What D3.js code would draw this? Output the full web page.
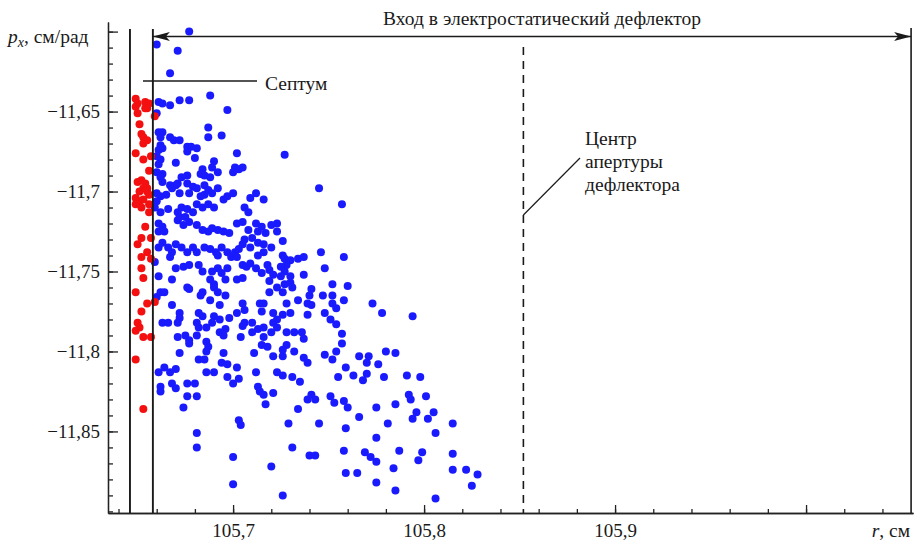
<!DOCTYPE html>
<html>
<head>
<meta charset="utf-8">
<script src="https://cdn.jsdelivr.net/npm/d3@7"></script>
<style>
body { margin: 0; background: #fff; }
svg, svg text, svg tspan { font-family: 'Liberation Serif', 'DejaVu Serif', 'Times New Roman', Times, serif !important; fill: #1a1a1a; }
</style>
</head>
<body>
<script>
var width = 915, height = 545;

// particles inside the septum (red) and beyond it (blue): [r, cm ; p_x, cm/rad]
var redPoints = [
  [105.649,-11.642],[105.654,-11.644],[105.656,-11.645],[105.650,-11.645],[105.649,-11.647],[105.654,-11.648],
  [105.655,-11.648],[105.650,-11.651],[105.659,-11.653],[105.651,-11.658],[105.652,-11.664],[105.653,-11.666],
  [105.655,-11.668],[105.653,-11.670],[105.649,-11.676],[105.653,-11.680],[105.657,-11.678],[105.656,-11.687],
  [105.650,-11.694],[105.652,-11.693],[105.654,-11.695],[105.655,-11.698],[105.653,-11.698],[105.651,-11.700],
  [105.655,-11.700],[105.656,-11.702],[105.649,-11.704],[105.651,-11.706],[105.653,-11.705],[105.649,-11.708],
  [105.656,-11.708],[105.652,-11.710],[105.656,-11.713],[105.654,-11.722],[105.652,-11.729],[105.650,-11.733],
  [105.657,-11.729],[105.655,-11.738],[105.652,-11.741],[105.657,-11.742],[105.652,-11.748],[105.653,-11.754],
  [105.649,-11.763],[105.655,-11.770],[105.659,-11.769],[105.652,-11.775],[105.650,-11.782],[105.651,-11.785],
  [105.649,-11.787],[105.653,-11.791],[105.657,-11.791],[105.649,-11.805],[105.653,-11.836]
];

var bluePoints = [
  [105.677,-11.600],[105.660,-11.608],[105.671,-11.612],[105.667,-11.626],[105.688,-11.640],
  [105.661,-11.644],[105.663,-11.645],[105.667,-11.646],[105.672,-11.643],[105.677,-11.643],[105.660,-11.651],
  [105.697,-11.649],[105.687,-11.660],
  [105.661,-11.663],[105.663,-11.663],[105.662,-11.666],[105.667,-11.666],[105.669,-11.668],[105.672,-11.668],
  [105.687,-11.666],[105.694,-11.665],[105.662,-11.671],[105.661,-11.674],[105.663,-11.673],[105.676,-11.672],
  [105.678,-11.672],[105.681,-11.673],[105.676,-11.675],[105.702,-11.676],[105.727,-11.677],[105.680,-11.679],
  [105.660,-11.678],
  [105.662,-11.680],[105.661,-11.683],[105.670,-11.682],[105.690,-11.681],[105.689,-11.685],[105.692,-11.688],
  [105.701,-11.685],[105.703,-11.686],[105.700,-11.688],[105.705,-11.685],[105.660,-11.688],[105.663,-11.689],
  [105.662,-11.691],[105.684,-11.686],[105.683,-11.689],[105.685,-11.690],[105.676,-11.690],[105.673,-11.691],
  [105.688,-11.691],
  [105.663,-11.694],[105.667,-11.696],[105.670,-11.696],[105.668,-11.698],[105.671,-11.695],[105.676,-11.695],
  [105.679,-11.697],[105.681,-11.698],[105.685,-11.696],[105.687,-11.699],[105.685,-11.702],[105.692,-11.698],
  [105.745,-11.698],[105.660,-11.701],[105.662,-11.703],[105.665,-11.702],[105.672,-11.701],[105.677,-11.701],
  [105.683,-11.703],[105.695,-11.705],[105.697,-11.703],[105.700,-11.701],[105.709,-11.704],[105.712,-11.701],
  [105.716,-11.705],[105.689,-11.701],
  [105.757,-11.708],[105.660,-11.706],[105.659,-11.710],[105.662,-11.713],[105.666,-11.711],[105.671,-11.713],
  [105.673,-11.710],[105.676,-11.711],[105.679,-11.713],[105.681,-11.708],[105.684,-11.710],[105.687,-11.708],
  [105.690,-11.710],[105.706,-11.710],[105.708,-11.713],[105.671,-11.718],[105.672,-11.716],[105.675,-11.716],
  [105.661,-11.720],[105.663,-11.722],[105.661,-11.725],[105.664,-11.725],[105.677,-11.719],[105.674,-11.721],
  [105.681,-11.721],[105.684,-11.724],[105.687,-11.725],[105.689,-11.723],[105.692,-11.724],[105.695,-11.725],
  [105.698,-11.726],[105.702,-11.720],[105.705,-11.719],[105.708,-11.724],[105.712,-11.720],[105.713,-11.725],
  [105.715,-11.722],[105.720,-11.721],[105.723,-11.720],[105.717,-11.726],[105.723,-11.725],[105.706,-11.730],
  [105.710,-11.729],
  [105.726,-11.731],[105.716,-11.733],[105.713,-11.732],[105.709,-11.735],[105.720,-11.735],[105.661,-11.735],
  [105.663,-11.732],[105.666,-11.735],[105.668,-11.738],[105.667,-11.741],[105.670,-11.733],[105.673,-11.735],
  [105.676,-11.738],[105.679,-11.735],[105.681,-11.738],[105.685,-11.735],[105.688,-11.736],[105.691,-11.738],
  [105.694,-11.735],[105.697,-11.738],[105.699,-11.741],[105.701,-11.738],[105.703,-11.736],[105.705,-11.733],
  [105.692,-11.740],[105.702,-11.741],[105.713,-11.740],[105.716,-11.738],[105.726,-11.740],[105.727,-11.742],
  [105.730,-11.743],[105.734,-11.742],[105.737,-11.741],[105.746,-11.738],[105.758,-11.741],
  [105.728,-11.746],[105.659,-11.744],[105.670,-11.748],[105.674,-11.747],[105.677,-11.746],[105.682,-11.746],
  [105.684,-11.750],[105.689,-11.750],[105.692,-11.748],[105.694,-11.751],[105.697,-11.748],[105.705,-11.746],
  [105.707,-11.747],[105.709,-11.745],[105.712,-11.748],[105.718,-11.746],[105.719,-11.749],[105.721,-11.752],
  [105.725,-11.747],[105.727,-11.750],[105.715,-11.751],[105.725,-11.753],[105.730,-11.753],[105.737,-11.752],
  [105.748,-11.748],[105.661,-11.753],[105.668,-11.755],[105.702,-11.755],[105.705,-11.754],
  [105.696,-11.755],[105.688,-11.755],[105.690,-11.758],[105.719,-11.756],[105.723,-11.760],[105.727,-11.758],
  [105.726,-11.763],[105.730,-11.757],[105.731,-11.760],[105.752,-11.758],[105.760,-11.759],[105.741,-11.761],
  [105.740,-11.765],[105.747,-11.765],[105.752,-11.765],[105.676,-11.760],[105.677,-11.761],[105.684,-11.763],
  [105.683,-11.765],[105.690,-11.760],[105.692,-11.763],[105.696,-11.765],[105.719,-11.763],[105.660,-11.766],
  [105.662,-11.763],[105.664,-11.763],
  [105.688,-11.768],[105.752,-11.770],[105.754,-11.773],[105.758,-11.768],[105.739,-11.770],[105.741,-11.771],
  [105.714,-11.770],[105.716,-11.770],[105.728,-11.770],[105.734,-11.768],[105.773,-11.770],[105.778,-11.776],
  [105.794,-11.778],[105.748,-11.776],[105.751,-11.780],[105.726,-11.777],[105.723,-11.780],[105.739,-11.777],
  [105.705,-11.770],[105.706,-11.774],[105.721,-11.776],[105.668,-11.771],[105.672,-11.776],[105.672,-11.779],
  [105.682,-11.776],[105.684,-11.778],[105.690,-11.778],[105.693,-11.780],[105.698,-11.779],[105.702,-11.776],
  [105.715,-11.775],[105.693,-11.771],[105.730,-11.776],
  [105.721,-11.782],[105.716,-11.785],[105.713,-11.786],[105.710,-11.788],[105.720,-11.788],[105.728,-11.788],
  [105.732,-11.788],[105.736,-11.788],[105.737,-11.792],[105.754,-11.783],[105.757,-11.789],[105.663,-11.782],
  [105.666,-11.782],[105.710,-11.782],[105.723,-11.785],[105.689,-11.782],[105.706,-11.782],[105.705,-11.784],
  [105.696,-11.786],[105.693,-11.788],[105.671,-11.782],[105.682,-11.785],[105.681,-11.782],[105.686,-11.785],
  [105.695,-11.790],[105.671,-11.791],[105.675,-11.790],[105.677,-11.793],[105.681,-11.790],[105.704,-11.791],
  [105.716,-11.791],
  [105.757,-11.795],[105.728,-11.796],[105.726,-11.799],[105.732,-11.800],[105.737,-11.804],[105.739,-11.807],
  [105.748,-11.802],[105.752,-11.805],[105.754,-11.800],[105.766,-11.803],[105.771,-11.803],[105.770,-11.807],
  [105.776,-11.808],[105.780,-11.800],[105.785,-11.801],[105.677,-11.795],[105.686,-11.794],[105.687,-11.797],
  [105.686,-11.800],[105.672,-11.801],[105.695,-11.801],[105.682,-11.805],[105.685,-11.805],[105.715,-11.796],
  [105.718,-11.797],[105.711,-11.801],[105.721,-11.803],[105.726,-11.803],
  [105.694,-11.807],[105.697,-11.808],[105.702,-11.810],[105.759,-11.810],[105.755,-11.816],[105.763,-11.815],
  [105.768,-11.818],[105.770,-11.814],[105.779,-11.816],[105.791,-11.815],[105.798,-11.816],[105.726,-11.815],
  [105.731,-11.816],[105.735,-11.819],[105.661,-11.813],[105.664,-11.810],[105.667,-11.813],[105.670,-11.811],
  [105.686,-11.813],[105.690,-11.813],[105.697,-11.816],[105.700,-11.820],[105.703,-11.817],[105.712,-11.813],
  [105.723,-11.813],
  [105.662,-11.822],[105.662,-11.825],[105.668,-11.820],[105.670,-11.823],[105.676,-11.820],[105.680,-11.820],
  [105.676,-11.828],[105.681,-11.828],[105.713,-11.822],[105.714,-11.825],[105.716,-11.827],[105.721,-11.826],
  [105.739,-11.830],[105.741,-11.827],[105.743,-11.830],[105.751,-11.828],[105.792,-11.827],[105.793,-11.830],
  [105.801,-11.828],
  [105.753,-11.832],[105.758,-11.831],[105.760,-11.835],[105.775,-11.835],[105.785,-11.833],[105.796,-11.838],
  [105.802,-11.842],[105.805,-11.838],[105.794,-11.842],[105.734,-11.836],[105.766,-11.841],[105.729,-11.845],
  [105.745,-11.845],[105.759,-11.848],[105.781,-11.845],[105.815,-11.845],[105.674,-11.835],[105.717,-11.833],
  [105.703,-11.843],[105.704,-11.846],
  [105.806,-11.851],[105.775,-11.854],[105.731,-11.860],[105.740,-11.865],[105.743,-11.865],[105.758,-11.862],
  [105.769,-11.863],[105.772,-11.866],[105.775,-11.869],[105.787,-11.862],[105.799,-11.863],[105.797,-11.868],
  [105.815,-11.864],[105.784,-11.873],[105.759,-11.876],[105.765,-11.876],[105.775,-11.882],[105.785,-11.887],
  [105.806,-11.892],[105.815,-11.874],[105.822,-11.874],[105.828,-11.877],[105.825,-11.884],[105.726,-11.890],
  [105.681,-11.851],[105.681,-11.860],[105.700,-11.866],[105.700,-11.883],[105.720,-11.872]
];

var xLabelTicks = [105.7, 105.8, 105.9];
var yLabelTicks = [-11.85, -11.8, -11.75, -11.7, -11.65];

var septumInner = 105.646, septumOuter = 105.658;
var apertureCenter = 105.852, deflectorEnd = 106.055;

var serif = "'Liberation Serif', 'DejaVu Serif', serif";

var x = d3.scaleLinear().domain([105.6345, 106.056]).range([108, 913]);
var y = d3.scaleLinear().domain([-11.901, -11.594]).range([513, 22]);

var svg = d3.select("body").append("svg")
    .attr("width", width)
    .attr("height", height)
    .attr("font-family", serif);

var comma = function(v) { return String(v).replace(".", ","); };

// minor / major tick positions
var xMinor = d3.range(0, 21).map(function(i) { return +(105.64 + i * 0.02).toFixed(2); });
var xMajor = [105.7, 105.8, 105.9, 106.0];
var yMinor = d3.range(0, 31).map(function(i) { return +(-11.9 + i * 0.01).toFixed(2); });
var yMajor = [-11.85, -11.8, -11.75, -11.7, -11.65, -11.6];

// points
svg.append("g").selectAll("circle")
    .data(bluePoints)
    .enter().append("circle")
    .attr("cx", function(d) { return x(d[0]); })
    .attr("cy", function(d) { return y(d[1]); })
    .attr("r", 4)
    .attr("fill", "#1a1aff");

svg.append("g").selectAll("circle")
    .data(redPoints)
    .enter().append("circle")
    .attr("cx", function(d) { return x(d[0]); })
    .attr("cy", function(d) { return y(d[1]); })
    .attr("r", 4)
    .attr("fill", "#f41010");

// y axis
var gy = svg.append("g").attr("transform", "translate(108,0)");
gy.call(d3.axisLeft(y).tickValues(yMinor).tickSize(-5).tickSizeOuter(0).tickFormat(""));
gy.append("g").call(d3.axisLeft(y).tickValues(yMajor).tickSize(-10).tickSizeOuter(0).tickPadding(8)
    .tickFormat(function(d) {
        return yLabelTicks.indexOf(d) >= 0 ? "\u2212" + comma(Math.abs(d)) : "";
    }));

// x axis
var gx = svg.append("g").attr("transform", "translate(0,513)");
gx.call(d3.axisBottom(x).tickValues(xMinor).tickSize(-4).tickSizeOuter(0).tickFormat(""));
gx.append("g").call(d3.axisBottom(x).tickValues(xMajor).tickSize(-8).tickSizeOuter(0).tickPadding(11)
    .tickFormat(function(d) { return xLabelTicks.indexOf(d) >= 0 ? comma(d) : ""; }));

svg.selectAll("g").attr("font-family", serif);
svg.selectAll(".domain, .tick line").attr("stroke", "#222").attr("stroke-width", 1.3);
svg.selectAll(".tick text")
    .attr("font-size", 19)
    .attr("fill", "#1a1a1a");

// septum walls
[septumInner, septumOuter].forEach(function(v) {
    svg.append("line")
        .attr("x1", x(v)).attr("x2", x(v))
        .attr("y1", 29).attr("y2", 513)
        .attr("stroke", "#1a1a1a").attr("stroke-width", 1.9);
});

// deflector entrance end
svg.append("line")
    .attr("x1", x(deflectorEnd)).attr("x2", x(deflectorEnd))
    .attr("y1", 28).attr("y2", 513)
    .attr("stroke", "#1a1a1a").attr("stroke-width", 1.6);

// aperture centre (dashed)
svg.append("line")
    .attr("x1", x(apertureCenter)).attr("x2", x(apertureCenter))
    .attr("y1", 47).attr("y2", 513)
    .attr("stroke", "#1a1a1a").attr("stroke-width", 1.6)
    .attr("stroke-dasharray", "8,6");

// double arrow
var ay = 36.5, a0 = x(septumOuter), a1 = x(deflectorEnd);
svg.append("line")
    .attr("x1", a0).attr("x2", a1)
    .attr("y1", ay).attr("y2", ay)
    .attr("stroke", "#1a1a1a").attr("stroke-width", 1.4);
svg.append("path")
    .attr("d", "M" + a0 + "," + ay + "L" + (a0 + 17) + "," + (ay - 4.5) + "L" + (a0 + 13) + "," + ay + "L" + (a0 + 17) + "," + (ay + 4.5) + "Z")
    .attr("fill", "#1a1a1a");
svg.append("path")
    .attr("d", "M" + a1 + "," + ay + "L" + (a1 - 17) + "," + (ay - 4.5) + "L" + (a1 - 13) + "," + ay + "L" + (a1 - 17) + "," + (ay + 4.5) + "Z")
    .attr("fill", "#1a1a1a");

svg.append("text")
    .attr("x", 542).attr("y", 25)
    .attr("text-anchor", "middle")
    .attr("font-size", 19.5)
    .text("Вход в электростатический дефлектор");

// septum label
svg.append("line")
    .attr("x1", 143).attr("x2", 257)
    .attr("y1", 81).attr("y2", 81)
    .attr("stroke", "#1a1a1a").attr("stroke-width", 1.4);
svg.append("text")
    .attr("x", 265).attr("y", 90)
    .attr("font-size", 19.5)
    .text("Септум");

// aperture label
svg.append("line")
    .attr("x1", x(apertureCenter)).attr("x2", 580)
    .attr("y1", 215).attr("y2", 158)
    .attr("stroke", "#1a1a1a").attr("stroke-width", 1.2);
var lbl = svg.append("text").attr("x", 585).attr("font-size", 19.5);
["Центр", "апертуры", "дефлектора"].forEach(function(s, i) {
    lbl.append("tspan").attr("x", 585).attr("y", 145 + i * 23).text(s);
});

// axis titles
var yt = svg.append("text").attr("x", 8).attr("y", 43).attr("font-size", 19.5);
yt.append("tspan").attr("font-style", "italic").text("p");
yt.append("tspan").attr("font-style", "italic").attr("font-size", 14).attr("dy", 4).text("x");
yt.append("tspan").attr("dy", -4).text(", см/рад");

var xt = svg.append("text").attr("x", 910).attr("y", 537).attr("text-anchor", "end").attr("font-size", 19.5);
xt.append("tspan").attr("font-style", "italic").text("r");
xt.append("tspan").text(", см");
</script>
</body>
</html>
